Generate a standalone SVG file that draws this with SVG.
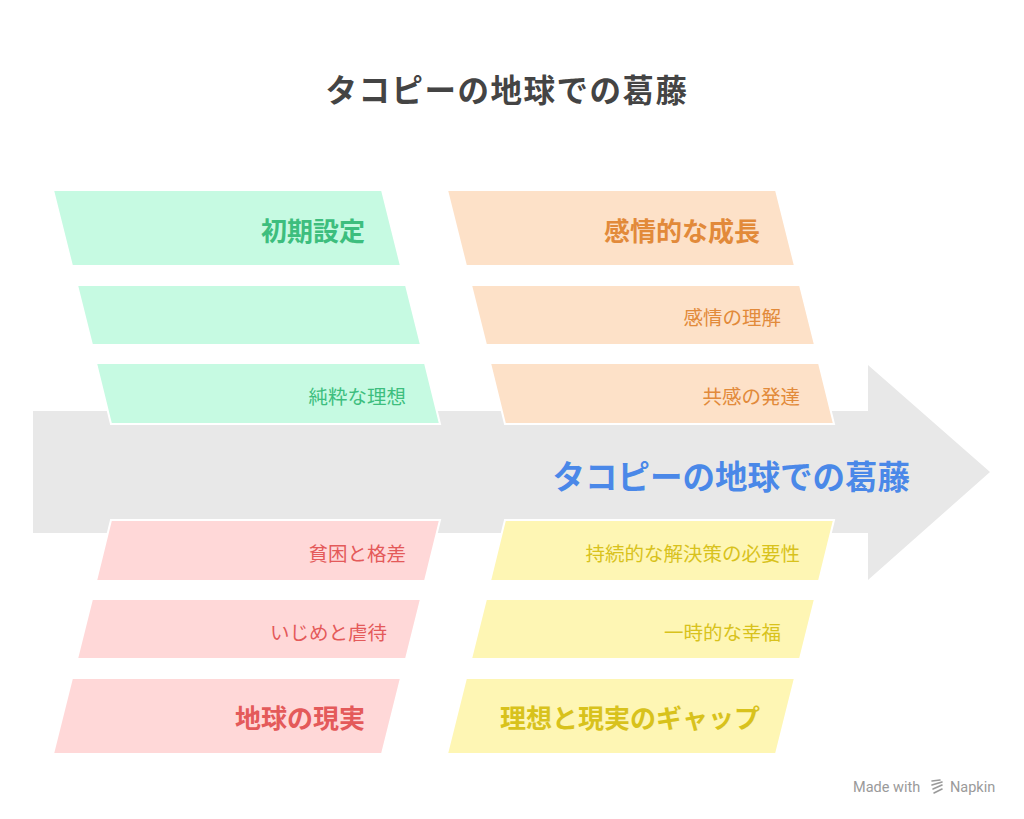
<svg xmlns="http://www.w3.org/2000/svg" width="1024" height="819" viewBox="0 0 1024 819">
<style>
text{font-family:"Noto Sans CJK JP","Noto Sans",sans-serif;dominant-baseline:central}
.box{stroke:#fff;stroke-width:2}
.g{fill:#C6FAE2}.o{fill:#FDE1C8}.r{fill:#FFD8D8}.y{fill:#FEF6B4}
.big{font-size:26px;font-weight:700;text-anchor:end}
.sm{font-size:19.5px;text-anchor:end}
.tg{fill:#3DBE7E}.to{fill:#E28A3A}.tr{fill:#E45A5A}.ty{fill:#D8C21C}
</style>
<rect width="1024" height="819" fill="#fff"/>
<text x="507" y="88" font-size="31.5" font-weight="700" fill="#444" text-anchor="middle" letter-spacing="1.5">タコピーの地球での葛藤</text>
<g id="connectors">
<polygon id="spine" points="33,411 868,411 868,365 990,472 868,580 868,533 33,533" fill="#E8E8E8"/>
</g>
<g id="spine-label"><text x="910" y="474" font-size="32.5" font-weight="700" fill="#4A88E8" text-anchor="end">タコピーの地球での葛藤</text></g>
<g id="g1"><polygon class="box g" points="53,190 382,190 401,266 72,266"/><text class="big tg" x="365" y="229">初期設定</text></g>
<g id="g2"><polygon class="box g" points="77,285 406,285 421,345 92,345"/></g>
<g id="g3"><polygon class="box g" points="96,363 425,363 440,424 111,424"/><text class="sm tg" x="406" y="395">純粋な理想</text></g>
<g id="o1"><polygon class="box o" points="447,190 776,190 795,266 466,266"/><text class="big to" x="760" y="229">感情的な成長</text></g>
<g id="o2"><polygon class="box o" points="471,285 800,285 815,345 486,345"/><text class="sm to" x="781" y="316">感情の理解</text></g>
<g id="o3"><polygon class="box o" points="490,363 819,363 834,424 505,424"/><text class="sm to" x="800" y="395">共感の発達</text></g>
<g id="r1"><polygon class="box r" points="111,520 440,520 425,581 96,581"/><text class="sm tr" x="406" y="552">貧困と格差</text></g>
<g id="r2"><polygon class="box r" points="92,599 421,599 406,659 77,659"/><text class="sm tr" x="387" y="631">いじめと虐待</text></g>
<g id="r3"><polygon class="box r" points="72,678 401,678 382,754 53,754"/><text class="big tr" x="365" y="716">地球の現実</text></g>
<g id="y1"><polygon class="box y" points="505,520 834,520 819,581 490,581"/><text class="sm ty" x="800" y="552">持続的な解決策の必要性</text></g>
<g id="y2"><polygon class="box y" points="486,599 815,599 800,659 471,659"/><text class="sm ty" x="781" y="631">一時的な幸福</text></g>
<g id="y3"><polygon class="box y" points="466,678 795,678 776,754 447,754"/><text class="big ty" x="760" y="716">理想と現実のギャップ</text></g>
<g id="watermark" fill="#9a9a9a">
<text x="853" y="787" font-size="14.5" style="font-family:Roboto,'Noto Sans',sans-serif">Made with</text>
<g stroke="#9a9a9a" stroke-width="1.6" fill="none" stroke-linecap="round"><path d="M932,781 L940,780 M932,785 L942,782 M933,789 L942,785 M934,793 L942,789"/></g>
<text x="950" y="787" font-size="14.5" style="font-family:Roboto,'Noto Sans',sans-serif">Napkin</text>
</g>
</svg>
